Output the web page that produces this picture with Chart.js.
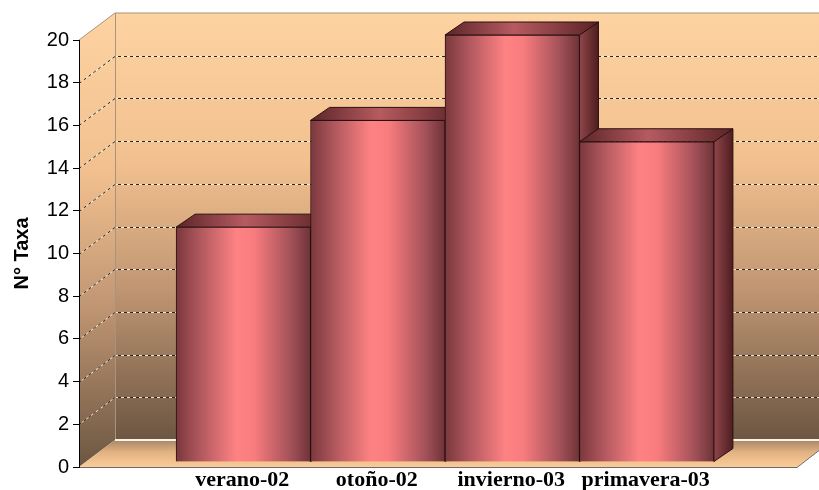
<!DOCTYPE html>
<html>
<head>
<meta charset="utf-8">
<script src="https://cdn.jsdelivr.net/npm/chart.js@4/dist/chart.umd.min.js"></script>
<style>
  html, body { margin: 0; padding: 0; background: #fff; }
  #wrap { width: 819px; height: 490px; }
</style>
</head>
<body>
<div id="wrap"><canvas id="taxaChart" width="819" height="490"></canvas></div>
<script>
// number of taxa per season
const seasons = ['verano-02', 'otoño-02', 'invierno-03', 'primavera-03'];
const taxa = [11, 16, 20, 15];
const yMin = 0;
const yMax = 20;
const yStep = 2;

// 3D look: wall depth, bar position inside the box, bar depth
const WALL_DX = 36, WALL_DY = -27;
const BAR_SHIFT_X = 7, BAR_SHIFT_Y = -5;
const BAR_DX = 19, BAR_DY = -13;

function wallGradient(ctx, top, bottom) {
    const g = ctx.createLinearGradient(0, top, 0, bottom);
    g.addColorStop(0, '#fdd3a1');
    g.addColorStop(0.35, '#f2c08f');
    g.addColorStop(0.65, '#bf9572');
    g.addColorStop(1, '#6c5642');
    return g;
}

function frontFill(context) {
    const chart = context.chart;
    if (!chart.chartArea) return '#e07070';
    const xs = chart.scales.x;
    const c = xs.getPixelForValue(context.dataIndex);
    const half = (xs.getPixelForValue(1) - xs.getPixelForValue(0)) / 2;
    const g = chart.ctx.createLinearGradient(c - half, 0, c + half, 0);
    g.addColorStop(0, '#7a383c');
    g.addColorStop(0.18, '#b0585e');
    g.addColorStop(0.45, '#ff8283');
    g.addColorStop(0.58, '#f87c7e');
    g.addColorStop(0.85, '#a4525a');
    g.addColorStop(1, '#6e3337');
    return g;
}

const boxPlugin = {
    id: 'box3d',
    beforeDraw(chart) {
        const ctx = chart.ctx;
        const area = chart.chartArea;
        const y = chart.scales.y;
        const W = chart.width;
        const left = area.left, right = area.right;
        const bottom = y.getPixelForValue(yMin);
        const top = y.getPixelForValue(yMax);
        const bl = left + WALL_DX;

        ctx.save();
        // back wall
        ctx.fillStyle = wallGradient(ctx, top + WALL_DY, bottom + WALL_DY);
        ctx.fillRect(bl, top + WALL_DY, W - bl, bottom - top);
        // side wall
        ctx.fillStyle = wallGradient(ctx, top + WALL_DY, bottom);
        ctx.beginPath();
        ctx.moveTo(left, top);
        ctx.lineTo(bl, top + WALL_DY);
        ctx.lineTo(bl, bottom + WALL_DY);
        ctx.lineTo(left, bottom);
        ctx.closePath();
        ctx.fill();
        // floor
        const fg = ctx.createLinearGradient(0, bottom + WALL_DY, 0, bottom);
        fg.addColorStop(0, '#a88565');
        fg.addColorStop(0.45, '#e2b283');
        fg.addColorStop(1, '#fbcb97');
        ctx.fillStyle = fg;
        ctx.beginPath();
        ctx.moveTo(left, bottom);
        ctx.lineTo(bl, bottom + WALL_DY);
        ctx.lineTo(W, bottom + WALL_DY);
        ctx.lineTo(W, bottom + (W - right) * WALL_DY / WALL_DX);
        ctx.lineTo(right, bottom);
        ctx.closePath();
        ctx.fill();

        // dashed grid on back and side walls
        ctx.lineWidth = 1;
        for (let v = yMin + yStep; v < yMax; v += yStep) {
            const yf = Math.round(y.getPixelForValue(v)) + 0.5;
            const yb = yf + WALL_DY;
            ctx.setLineDash([]);
            ctx.strokeStyle = 'rgba(255,246,232,0.85)';
            ctx.beginPath();
            ctx.moveTo(left, yf); ctx.lineTo(bl, yb); ctx.lineTo(W, yb);
            ctx.stroke();
            ctx.setLineDash([3, 3]);
            ctx.strokeStyle = '#2b2520';
            ctx.beginPath();
            ctx.moveTo(left, yf); ctx.lineTo(bl, yb); ctx.lineTo(W, yb);
            ctx.stroke();
        }
        ctx.setLineDash([]);

        // box edges
        ctx.strokeStyle = '#a8937e';
        ctx.beginPath();
        ctx.moveTo(left, top); ctx.lineTo(bl, top + WALL_DY); ctx.lineTo(W, top + WALL_DY);
        ctx.moveTo(bl + 0.5, top + WALL_DY); ctx.lineTo(bl + 0.5, bottom + WALL_DY);
        ctx.stroke();
        ctx.strokeStyle = '#faf4ec';
        ctx.lineWidth = 2;
        ctx.beginPath();
        ctx.moveTo(bl, bottom + WALL_DY); ctx.lineTo(W, bottom + WALL_DY);
        ctx.stroke();
        ctx.strokeStyle = '#6b6b6b';
        ctx.lineWidth = 1;
        ctx.beginPath();
        ctx.moveTo(left, bottom + 0.5); ctx.lineTo(right, bottom + 0.5);
        ctx.lineTo(W, bottom + (W - right) * WALL_DY / WALL_DX);
        ctx.stroke();
        ctx.restore();
    },
    beforeDatasetsDraw(chart) {
        const ctx = chart.ctx;
        ctx.save();
        ctx.translate(BAR_SHIFT_X, BAR_SHIFT_Y);
        const bars = chart.getDatasetMeta(0).data;
        bars.forEach((bar) => {
            const L = bar.x - bar.width / 2;
            const R = bar.x + bar.width / 2;
            const T = bar.y;
            const B = bar.base;
            // right side face
            const sg = ctx.createLinearGradient(R, 0, R + BAR_DX, 0);
            sg.addColorStop(0, '#8e464a');
            sg.addColorStop(1, '#4f1d20');
            ctx.fillStyle = sg;
            ctx.strokeStyle = '#2a1012';
            ctx.lineWidth = 1;
            ctx.beginPath();
            ctx.moveTo(R, T); ctx.lineTo(R + BAR_DX, T + BAR_DY);
            ctx.lineTo(R + BAR_DX, B + BAR_DY); ctx.lineTo(R, B);
            ctx.closePath();
            ctx.fill(); ctx.stroke();
            // top face
            const tg = ctx.createLinearGradient(L, 0, R + BAR_DX, 0);
            tg.addColorStop(0, '#5c2528');
            tg.addColorStop(0.45, '#b65b60');
            tg.addColorStop(1, '#5a2326');
            ctx.fillStyle = tg;
            ctx.beginPath();
            ctx.moveTo(L, T); ctx.lineTo(L + BAR_DX, T + BAR_DY);
            ctx.lineTo(R + BAR_DX, T + BAR_DY); ctx.lineTo(R, T);
            ctx.closePath();
            ctx.fill(); ctx.stroke();
        });
    },
    afterDatasetsDraw(chart) {
        chart.ctx.restore();
    }
};

new Chart(document.getElementById('taxaChart'), {
    type: 'bar',
    data: {
        datasets: [{
            data: taxa.map((v, i) => ({ x: i, y: v })),
            backgroundColor: frontFill,
            borderColor: '#2a1012',
            borderWidth: 1,
            barPercentage: 1,
            categoryPercentage: 1,
            clip: false
        }]
    },
    options: {
        responsive: false,
        animation: false,
        events: [],
        layout: { padding: { top: 40, right: 22, left: 0, bottom: 0 } },
        scales: {
            x: {
                type: 'linear',
                offset: false,
                min: -1.17,
                max: 4.17,
                grid: { display: false, drawTicks: false },
                border: { display: false },
                afterBuildTicks: (scale) => {
                    scale.ticks = seasons.map((s, i) => ({ value: i }));
                },
                afterFit: (scale) => { scale.height = 23; },
                ticks: {
                    autoSkip: false,
                    maxRotation: 0,
                    padding: 0,
                    labelOffset: 6,
                    color: '#000',
                    font: { family: '"Liberation Serif", "Times New Roman", serif', size: 22, weight: 'bold' },
                    callback: (v) => seasons[v]
                }
            },
            y: {
                min: yMin,
                max: yMax,
                afterFit: (scale) => { scale.width = 79; },
                border: { display: true, color: '#000', width: 1 },
                grid: { drawOnChartArea: false, drawTicks: true, tickLength: 6, color: '#000' },
                ticks: {
                    stepSize: yStep,
                    padding: 4,
                    color: '#000',
                    font: { family: '"Liberation Sans", Arial, sans-serif', size: 20 }
                },
                title: {
                    display: true,
                    text: 'N° Taxa',
                    color: '#000',
                    padding: { top: 10, bottom: 0 },
                    font: { family: '"Liberation Sans", Arial, sans-serif', size: 20, weight: 'bold' }
                }
            }
        },
        plugins: {
            legend: { display: false },
            tooltip: { enabled: false }
        }
    },
    plugins: [boxPlugin]
});
</script>
</body>
</html>
